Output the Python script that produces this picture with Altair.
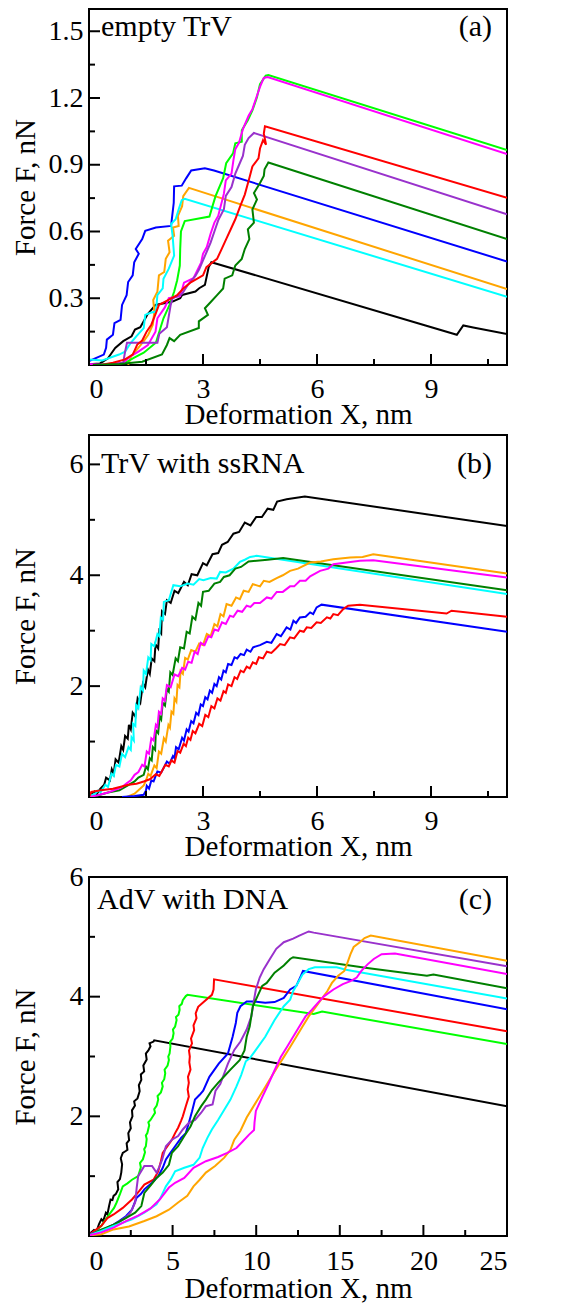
import altair as alt
import pandas as pd

FONT = "Liberation Serif"
FS = 28      # tick labels
FST = 29     # axis titles
FSA = 30     # annotations

# ---------------- Panel (a): empty TrV ----------------
a_black = [(0,0.003),(0.29,0.007),(0.5,0.03),(0.6,0.055),(0.69,0.077),(0.9,0.107),(1.12,0.129),(1.21,0.159),
           (1.35,0.17),(1.45,0.2),(1.53,0.225),(1.75,0.27),(2.2,0.285),(2.4,0.3),(2.45,0.315),(2.8,0.33),
           (2.9,0.345),(3.05,0.36),(3.1,0.4),(3.15,0.44),(3.22,0.462),(9.68,0.136),(9.85,0.178),(10.11,0.169),(11,0.139)]
a_blue = [(0,0.018),(0.39,0.047),(0.45,0.077),(0.47,0.114),(0.63,0.136),(0.67,0.188),(0.83,0.203),(0.87,0.27),
          (0.99,0.314),(1.03,0.373),(1.15,0.403),(1.19,0.462),(1.31,0.5),(1.23,0.521),(1.4,0.566),(1.48,0.603),
          (1.76,0.618),(2.16,0.625),(2.23,0.729),(2.24,0.803),(2.44,0.806),(2.56,0.84),(2.69,0.874),(3.05,0.884),
          (3.29,0.874),(11,0.465)]
a_orange = [(1.03,0.0),(1.11,0.04),(1.23,0.062),(1.44,0.107),(1.56,0.136),(1.68,0.181),(1.72,0.24),(1.69,0.292),
            (1.8,0.329),(1.84,0.403),(1.98,0.418),(2.02,0.477),(2.12,0.507),(2.08,0.559),(2.24,0.581),(2.21,0.618),
            (2.36,0.625),(2.34,0.67),(2.45,0.714),(2.48,0.759),(2.63,0.796),(11,0.341)]
a_cyan = [(0,0.025),(0.35,0.02),(0.79,0.047),(0.95,0.06),(1.1,0.1),(1.25,0.13),(1.44,0.166),(1.48,0.225),
          (1.62,0.235),(1.76,0.24),(1.8,0.314),(1.94,0.344),(1.96,0.388),(2.1,0.433),(2.24,0.492),(2.2,0.581),
          (2.16,0.633),(2.28,0.655),(2.36,0.7),(2.44,0.741),(2.52,0.747),(11,0.307)]
a_lime = [(0.95,0.01),(1.19,0.033),(1.44,0.055),(1.76,0.1),(1.88,0.166),(1.96,0.21),(2.12,0.27),(2.24,0.329),
          (2.32,0.381),(2.39,0.447),(2.4,0.521),(2.42,0.6),(2.52,0.647),(3.17,0.667),(3.25,0.714),(3.33,0.759),
          (3.53,0.84),(3.61,0.907),(3.79,0.951),(3.85,0.996),(4.02,1.003),(4.02,1.055),(4.18,1.1),(4.3,1.144),
          (4.42,1.203),(4.5,1.262),(4.65,1.3),(4.72,1.303),(11,0.966)]
a_magenta = [(0,0.005),(0.5,0.0),(0.9,0.01),(1.1,0.04),(1.3,0.06),(1.55,0.09),(1.75,0.15),(1.8,0.21),(2.0,0.26),
             (2.1,0.3),(2.4,0.31),(2.5,0.37),(2.75,0.39),(2.95,0.46),(3.0,0.5),(3.1,0.53),(3.2,0.59),(3.3,0.64),
             (3.4,0.67),(3.55,0.77),(3.6,0.83),(3.75,0.86),(3.8,0.92),(3.85,0.97),(3.95,1.0),(4.05,1.06),
             (4.2,1.12),(4.3,1.15),(4.4,1.2),(4.5,1.25),(4.6,1.29),(4.7,1.294),(11,0.948)]
a_purple = [(0.3,0.0),(0.9,0.01),(0.95,0.06),(1.0,0.1),(1.8,0.1),(1.85,0.14),(2.05,0.17),(2.1,0.22),(2.15,0.27),
            (2.2,0.3),(2.45,0.32),(2.6,0.36),(2.8,0.4),(2.9,0.43),(3.0,0.47),(3.1,0.51),(3.2,0.55),(3.3,0.6),
            (3.4,0.65),(3.55,0.7),(3.6,0.76),(3.75,0.8),(3.85,0.86),(3.95,0.9),(4.05,0.94),(4.1,0.99),(4.2,1.02),
            (4.34,1.043),(11,0.677)]
a_red = [(0.3,0.0),(0.63,0.01),(0.95,0.025),(1.15,0.047),(1.27,0.092),(1.4,0.11),(1.52,0.151),(1.64,0.181),
         (1.76,0.233),(1.84,0.27),(2.08,0.292),(2.32,0.314),(2.48,0.344),(2.69,0.373),(2.85,0.388),(3.0,0.403),
         (3.09,0.44),(3.37,0.477),(3.49,0.521),(3.61,0.566),(3.73,0.61),(3.85,0.655),(3.98,0.714),(4.1,0.766),
         (4.22,0.84),(4.3,0.892),(4.46,0.929),(4.5,0.973),(4.58,1.01),(4.66,0.99),(4.6,1.04),(4.63,1.073),(11,0.751)]
a_dgreen = [(0.1,0.0),(0.8,0.005),(1.4,0.015),(1.92,0.047),(2.05,0.09),(2.12,0.121),(2.24,0.107),(2.4,0.136),
            (2.89,0.166),(2.89,0.196),(3.13,0.225),(3.05,0.255),(3.21,0.284),(3.37,0.314),(3.53,0.344),
            (3.57,0.388),(3.77,0.403),(3.85,0.447),(4.02,0.477),(4.1,0.521),(4.22,0.566),(4.18,0.61),(4.34,0.64),
            (4.3,0.699),(4.42,0.744),(4.34,0.773),(4.5,0.818),(4.6,0.85),(4.62,0.88),(4.72,0.91),(11,0.566)]

# ---------------- Panel (b): TrV with ssRNA ----------------
b_maroon = [(0.0,0.03),(0.15,0.1),(0.2,0.05),(0.3,0.15),(0.4,0.22),(0.45,0.35),(0.55,0.3),(0.6,0.5),(0.65,0.42),
            (0.7,0.68),(0.78,0.62),(0.85,0.92),(0.9,0.85),(0.95,1.1),(1.02,1.05),(1.05,1.3),(1.1,1.22),(1.15,1.52),
            (1.22,1.45),(1.28,1.78),(1.35,1.7),(1.42,2.05),(1.48,1.98),(1.55,2.3),(1.6,2.22),(1.65,2.5),(1.72,2.45),
            (1.75,2.75),(1.82,2.68),(1.85,3.0),(1.9,2.95),(1.92,3.35),(2.0,3.3),(2.05,3.55),(2.15,3.5),(2.25,3.72),
            (2.35,3.68),(2.5,3.88),(2.6,3.82),(2.7,4.02),(2.85,4.0),(3.0,4.22),(3.1,4.18),(3.25,4.38),(3.4,4.4),
            (3.5,4.55),(3.65,4.6),(3.8,4.75),(3.95,4.78),(4.1,4.95),(4.25,4.9),(4.4,5.05),(4.55,5.05),(4.7,5.2),
            (4.85,5.18),(4.95,5.33),(5.2,5.37),(5.68,5.42),(11,4.89)]
b_cyan = [(0.0,0.02),(0.15,0.05),(0.25,0.12),(0.3,0.08),(0.43,0.22),(0.5,0.18),(0.59,0.42),(0.65,0.38),(0.71,0.58),
          (0.8,0.55),(0.87,0.78),(0.95,0.72),(1.04,0.9),(1.1,0.85),(1.12,1.08),(1.18,1.02),(1.16,1.32),(1.22,1.28),
          (1.24,1.66),(1.3,1.6),(1.36,1.98),(1.42,1.92),(1.44,2.28),(1.5,2.22),(1.56,2.52),(1.62,2.47),(1.64,2.76),
          (1.72,2.72),(1.8,2.94),(1.85,2.9),(1.89,3.24),(1.95,3.2),(1.97,3.52),(2.1,3.55),(2.22,3.82),(2.4,3.8),
          (2.6,3.85),(2.75,3.83),(2.9,3.93),(3.01,3.91),(3.2,3.95),(3.36,3.94),(3.45,4.06),(3.6,4.05),(3.8,4.12),
          (3.97,4.24),(4.1,4.28),(4.24,4.33),(4.41,4.35),(11,3.66)]
b_green = [(0.2,0.02),(0.5,0.08),(0.8,0.12),(1.0,0.2),(1.2,0.28),(1.3,0.35),(1.44,0.4),(1.5,0.55),(1.55,0.5),
           (1.6,0.7),(1.65,0.66),(1.68,0.9),(1.74,0.85),(1.76,1.2),(1.82,1.15),(1.86,1.45),(1.9,1.4),(1.94,1.7),
           (2.0,1.65),(2.05,1.95),(2.1,1.9),(2.14,2.25),(2.2,2.2),(2.28,2.5),(2.34,2.45),(2.4,2.7),(2.5,2.68),
           (2.57,2.98),(2.65,2.95),(2.72,3.25),(2.8,3.2),(2.88,3.5),(2.95,3.45),(3.0,3.7),(3.15,3.72),(3.3,3.85),
           (3.45,3.88),(3.55,3.97),(3.7,4.0),(3.85,4.12),(4.0,4.15),(4.2,4.25),(4.7,4.28),(5.11,4.31),(11,3.73)]
b_orange = [(1.0,0.0),(1.2,0.06),(1.3,0.12),(1.44,0.21),(1.5,0.3),(1.56,0.42),(1.62,0.38),(1.72,0.57),(1.78,0.52),
            (1.84,0.82),(1.9,0.78),(1.97,1.06),(2.02,1.0),(2.09,1.3),(2.13,1.25),(2.17,1.54),(2.22,1.5),(2.25,1.78),
            (2.3,1.72),(2.33,2.02),(2.38,1.98),(2.41,2.27),(2.47,2.22),(2.53,2.51),(2.6,2.48),(2.69,2.65),(2.8,2.62),
            (2.9,2.77),(3.0,2.74),(3.1,2.94),(3.2,2.9),(3.3,3.12),(3.38,3.08),(3.46,3.3),(3.54,3.26),(3.62,3.48),
            (3.75,3.45),(3.87,3.6),(3.97,3.57),(4.07,3.72),(4.2,3.7),(4.31,3.84),(4.5,3.8),(4.6,3.9),(4.75,3.88),
            (4.94,3.95),(5.1,4.0),(5.29,4.08),(5.5,4.12),(5.82,4.23),(6.1,4.25),(6.43,4.29),(6.87,4.32),(7.2,4.33),
            (7.48,4.38),(7.57,4.37),(11,4.03)]
b_magenta = [(0.0,0.0),(0.23,0.03),(0.5,0.08),(0.87,0.18),(1.0,0.25),(1.1,0.3),(1.2,0.4),(1.3,0.45),(1.4,0.58),
             (1.46,0.55),(1.52,0.82),(1.58,0.78),(1.64,1.06),(1.7,1.02),(1.76,1.3),(1.8,1.26),(1.84,1.54),(1.9,1.5),
             (1.94,1.78),(2.0,1.74),(2.05,2.02),(2.15,1.98),(2.25,2.21),(2.35,2.18),(2.45,2.33),(2.53,2.3),
             (2.61,2.44),(2.7,2.42),(2.78,2.62),(2.86,2.58),(2.94,2.78),(3.04,2.74),(3.14,2.9),(3.22,2.88),(3.3,3.02),
             (3.4,3.0),(3.5,3.15),(3.6,3.12),(3.71,3.27),(3.8,3.25),(3.91,3.36),(4.03,3.34),(4.15,3.45),(4.25,3.43),
             (4.35,3.5),(4.5,3.5),(4.68,3.6),(4.8,3.58),(4.94,3.7),(5.1,3.7),(5.29,3.8),(5.4,3.8),(5.55,3.9),
             (5.7,3.9),(5.82,3.98),(6.08,4.08),(6.3,4.12),(6.43,4.2),(6.78,4.23),(7.13,4.26),(7.48,4.27),(11,3.96)]
b_blue = [(0.87,0.0),(1.2,0.02),(1.44,0.04),(1.5,0.12),(1.52,0.2),(1.58,0.15),(1.64,0.3),(1.7,0.28),(1.8,0.46),
          (1.9,0.44),(2.05,0.64),(2.12,0.6),(2.21,0.74),(2.25,0.7),(2.29,0.9),(2.36,0.86),(2.45,1.07),(2.5,1.02),
          (2.57,1.22),(2.62,1.18),(2.69,1.37),(2.75,1.33),(2.82,1.52),(2.88,1.48),(2.94,1.67),(3.0,1.64),(3.06,1.8),
          (3.12,1.76),(3.18,1.92),(3.24,1.88),(3.3,2.04),(3.36,2.0),(3.42,2.16),(3.48,2.12),(3.54,2.28),(3.6,2.25),
          (3.66,2.4),(3.75,2.38),(3.83,2.52),(3.9,2.5),(3.99,2.58),(4.08,2.56),(4.15,2.66),(4.25,2.62),(4.32,2.7),
          (4.5,2.74),(4.68,2.8),(4.8,2.78),(4.94,2.94),(5.05,2.9),(5.2,3.06),(5.3,3.02),(5.38,3.18),(5.45,3.14),
          (5.55,3.24),(5.7,3.25),(5.82,3.33),(5.9,3.3),(5.99,3.42),(6.12,3.47),(11,2.98)]
b_red = [(0.0,0.0),(0.06,0.09),(0.31,0.12),(0.63,0.15),(1.04,0.22),(1.25,0.24),(1.44,0.28),(1.6,0.32),(1.76,0.41),
         (1.85,0.38),(2.01,0.58),(2.1,0.55),(2.17,0.66),(2.25,0.62),(2.33,0.83),(2.4,0.8),(2.49,0.96),(2.55,0.92),
         (2.61,1.07),(2.67,1.03),(2.73,1.19),(2.8,1.15),(2.9,1.32),(2.98,1.28),(3.06,1.48),(3.14,1.44),(3.22,1.64),
         (3.3,1.6),(3.38,1.78),(3.46,1.74),(3.54,1.91),(3.6,1.88),(3.66,2.03),(3.75,2.0),(3.83,2.16),(3.9,2.13),
         (3.99,2.28),(4.07,2.25),(4.15,2.35),(4.23,2.32),(4.31,2.43),(4.4,2.4),(4.47,2.52),(4.58,2.5),(4.68,2.62),
         (4.8,2.6),(4.92,2.68),(5.03,2.76),(5.15,2.74),(5.29,2.88),(5.4,2.86),(5.55,3.0),(5.65,2.98),(5.73,3.06),
         (5.85,3.05),(5.99,3.15),(6.1,3.14),(6.26,3.24),(6.35,3.22),(6.43,3.3),(6.55,3.28),(6.69,3.39),(6.82,3.45),
         (7.13,3.47),(9.41,3.31),(9.54,3.36),(11,3.25)]

# ---------------- Panel (c): AdV with DNA ----------------
c_black = [(0,0.03),(0.3,0.1),(0.45,0.08),(0.6,0.2),(0.74,0.28),(0.85,0.25),(1.01,0.39),(1.1,0.36),(1.2,0.5),
           (1.29,0.61),(1.4,0.6),(1.47,0.67),(1.6,0.7),(1.75,0.78),(1.7,0.9),(1.85,0.95),(1.93,1.06),(1.98,1.2),
           (1.9,1.3),(2.02,1.39),(2.2,1.42),(2.3,1.44),(2.25,1.55),(2.4,1.6),(2.35,1.72),(2.5,1.8),(2.45,1.9),
           (2.6,2.0),(2.57,2.1),(2.75,2.18),(2.7,2.25),(2.9,2.3),(3.03,2.42),(2.98,2.52),(3.13,2.61),(3.1,2.7),
           (3.3,2.75),(3.25,2.85),(3.45,2.95),(3.4,3.05),(3.55,3.1),(3.68,3.17),(3.62,3.22),(3.86,3.25),(3.9,3.27),
           (25,2.17)]
c_lime = [(0,0.01),(0.4,0.08),(0.74,0.17),(1.0,0.28),(1.29,0.39),(1.5,0.47),(1.65,0.56),(1.85,0.7),(2.02,0.83),
          (2.3,0.88),(2.57,0.94),(2.94,1.0),(3.1,1.15),(3.05,1.22),(3.22,1.28),(3.35,1.4),(3.3,1.45),(3.4,1.5),
          (3.45,1.62),(3.4,1.68),(3.49,1.72),(3.6,1.85),(3.55,1.9),(3.68,1.94),(3.95,2.06),(3.9,2.12),(4.05,2.18),
          (4.14,2.28),(4.1,2.34),(4.3,2.4),(4.41,2.5),(4.36,2.56),(4.5,2.62),(4.56,2.72),(4.52,2.78),(4.7,2.85),
          (4.78,2.94),(4.74,3.0),(4.82,3.05),(4.87,3.17),(4.84,3.24),(5.0,3.3),(5.06,3.39),(5.02,3.45),(5.15,3.5),
          (5.24,3.61),(5.2,3.66),(5.35,3.7),(5.42,3.78),(5.4,3.84),(5.55,3.88),(5.61,3.94),(5.79,4.01),(5.89,4.03),
          (13.44,3.71),(13.94,3.75),(25,3.21)]
c_red = [(0,0.02),(0.74,0.17),(1.1,0.3),(1.47,0.36),(2.02,0.47),(2.57,0.61),(3.0,0.75),(3.31,0.86),(3.86,0.94),
         (4.14,1.08),(4.3,1.25),(4.41,1.39),(4.69,1.5),(4.96,1.61),(5.15,1.72),(5.33,1.81),(5.5,1.92),(5.61,2.0),
         (5.79,2.17),(5.97,2.33),(5.9,2.45),(5.97,2.56),(5.92,2.66),(6.07,2.78),(6.0,2.9),(6.03,3.0),(5.98,3.1),
         (6.16,3.22),(6.1,3.3),(6.29,3.44),(6.25,3.52),(6.43,3.64),(6.38,3.72),(6.53,3.83),(6.89,3.92),(7.35,4.03),
         (7.45,4.12),(7.48,4.29),(25,3.42)]
c_blue = [(0,0.03),(0.74,0.08),(1.1,0.14),(1.47,0.19),(1.8,0.25),(2.21,0.33),(2.57,0.44),(2.85,0.64),(3.1,0.7),
          (3.31,0.78),(3.77,0.89),(4.14,1.0),(4.41,1.14),(4.6,1.28),(4.87,1.39),(5.15,1.5),(5.51,1.64),(5.79,1.72),
          (5.97,1.89),(6.16,2.08),(6.34,2.28),(6.62,2.36),(6.83,2.43),(7.2,2.66),(7.76,2.88),(8.31,3.05),(8.59,3.33),
          (8.78,3.56),(8.87,3.73),(9.06,3.84),(9.43,3.92),(9.8,3.92),(10.54,3.9),(11.1,3.91),(11.65,3.98),
          (12.03,4.12),(12.4,4.18),(12.68,4.35),(12.8,4.43),(25,3.79)]
c_purple = [(0,0.01),(0.5,0.08),(1.1,0.14),(1.6,0.2),(2.21,0.31),(2.5,0.4),(2.76,0.56),(2.85,0.8),(2.94,1.0),
            (3.31,1.17),(3.77,1.17),(4.04,1.06),(4.2,1.15),(4.38,1.28),(4.6,1.5),(4.96,1.61),(5.33,1.67),(5.61,1.78),
            (5.97,1.89),(6.34,1.94),(6.71,2.06),(6.99,2.17),(7.39,2.2),(7.57,2.43),(7.85,2.54),(8.31,2.88),
            (8.69,3.11),(9.06,3.25),(9.43,3.45),(9.71,3.67),(9.84,3.9),(9.98,4.12),(10.21,4.32),(10.45,4.46),
            (10.82,4.63),(11.2,4.8),(11.65,4.91),(12.21,4.97),(12.58,5.02),(13.14,5.09),(13.44,5.07),(25,4.51)]
c_dgreen = [(0,0.01),(0.7,0.1),(1.47,0.19),(2.2,0.3),(2.76,0.39),(3.13,0.5),(3.31,0.72),(3.7,0.85),(4.04,0.97),
            (4.41,1.06),(4.78,1.19),(4.96,1.39),(5.33,1.5),(5.7,1.67),(6.07,1.83),(6.34,2.0),(6.71,2.17),(6.99,2.28),
            (7.35,2.44),(7.72,2.56),(8.09,2.67),(8.46,2.78),(9.01,2.94),(9.3,3.1),(9.43,3.33),(9.61,3.5),(9.8,3.84),
            (10.08,4.01),(10.36,4.18),(10.63,4.23),(11.1,4.4),(11.65,4.52),(12.03,4.63),(12.21,4.66),(16.63,4.48),
            (20.21,4.35),(20.6,4.37),(25,4.14)]
c_cyan = [(0,0.01),(0.7,0.08),(1.47,0.17),(2.0,0.22),(2.57,0.28),(3.31,0.39),(4.04,0.53),(4.3,0.65),(4.6,0.83),
          (4.9,0.95),(5.15,1.08),(5.7,1.14),(6.25,1.19),(6.62,1.31),(6.8,1.47),(7.08,1.64),(7.35,1.78),(7.72,1.94),
          (8.09,2.11),(8.46,2.28),(8.82,2.5),(9.1,2.69),(9.38,2.92),(9.61,2.97),(9.98,3.11),(10.54,3.33),(11.1,3.61),
          (11.65,3.84),(12.03,3.95),(12.21,4.09),(12.49,4.23),(12.77,4.37),(13.14,4.46),(13.51,4.49),(14.81,4.49),
          (15.37,4.45),(25,3.97)]
c_orange = [(0,0.01),(0.74,0.03),(1.47,0.11),(2.39,0.16),(3.31,0.25),(4.04,0.33),(4.78,0.44),(5.33,0.56),
            (5.88,0.67),(6.25,0.83),(6.62,0.94),(6.99,1.06),(7.54,1.17),(8.09,1.31),(8.46,1.44),(8.69,1.61),
            (9.06,1.76),(9.43,1.98),(9.8,2.15),(10.17,2.32),(10.54,2.49),(10.91,2.66),(11.28,2.83),(11.65,2.99),
            (12.03,3.16),(12.4,3.33),(12.77,3.5),(13.14,3.67),(13.51,3.81),(13.88,3.95),(14.25,4.09),(14.53,4.23),
            (14.9,4.35),(15.27,4.43),(15.46,4.57),(15.64,4.71),(15.83,4.83),(16.2,4.91),(16.48,4.98),(16.85,5.02),
            (25,4.6)]
c_magenta = [(0,0.01),(0.74,0.06),(1.47,0.14),(2.21,0.25),(2.94,0.34),(3.68,0.46),(4.23,0.61),(4.78,0.81),
             (5.15,0.89),(5.7,0.97),(6.25,1.14),(6.99,1.25),(7.72,1.32),(8.27,1.39),(8.82,1.47),(9.19,1.58),
             (9.56,1.69),(9.87,1.77),(9.9,1.9),(9.98,2.09),(10.36,2.32),(10.73,2.54),(11.1,2.77),(11.47,2.99),
             (11.84,3.16),(12.21,3.33),(12.58,3.5),(12.95,3.67),(13.32,3.78),(13.7,3.9),(14.07,4.01),(14.62,4.12),
             (15.18,4.21),(15.64,4.26),(16.01,4.32),(16.29,4.43),(16.66,4.54),(17.03,4.63),(17.5,4.71),(18.3,4.72),
             (25,4.38)]

# axis ticks / labels
A_XLAB = [0, 3, 6, 9]
A_XMIN = [1.5, 4.5, 7.5, 10.5]
A_YLAB = [0.3, 0.6, 0.9, 1.2, 1.5]
A_YMIN = [0.15, 0.45, 0.75, 1.05, 1.35]
B_XLAB = [0, 3, 6, 9]
B_XMIN = [1.5, 4.5, 7.5, 10.5]
B_YLAB = [2, 4, 6]
B_YMIN = [1, 3, 5]
C_XLAB = [0, 5, 10, 15, 20, 25]
C_XMIN = [2.5, 7.5, 12.5, 17.5, 22.5]
C_YLAB = [2, 4, 6]
C_YMIN = [1, 3, 5]

COL = {"black": "#000000", "blue": "#0000ff", "orange": "#ffa500", "cyan": "#00ffff", "lime": "#00ff00",
       "magenta": "#ff00ff", "purple": "#9932cc", "red": "#ff0000", "dgreen": "#008000", "maroon": "#6e0f50"}


def to_df(curves):
    rows = []
    for name, pts in curves:
        for i, (x, y) in enumerate(pts):
            rows.append({"curve": name, "x": x, "y": y, "i": i})
    return pd.DataFrame(rows)


def panel(curves, xdom, ydom, xlab, xmin, ylab, ymin, W, H, label, tag, text_y, text_x, yfmt, title_y_off):
    names = [n for n, _ in curves]
    df = to_df(curves)
    xs = alt.Scale(domain=xdom, nice=False, zero=False)
    ys = alt.Scale(domain=ydom, nice=False, zero=False)
    xaxis = alt.Axis(values=xlab, title="Deformation X, nm", format="d", labelBaseline="alphabetic",
                     labelPadding=title_y_off[0], titleBaseline="alphabetic", titleY=title_y_off[1])
    yaxis = alt.Axis(values=ylab, title="Force F, nN", format=yfmt, labelPadding=6,
                     titleX=-55, titleBaseline="alphabetic")
    lines = alt.Chart(df).mark_line(strokeWidth=2, clip=True).encode(
        x=alt.X("x:Q", scale=xs, axis=xaxis),
        y=alt.Y("y:Q", scale=ys, axis=yaxis),
        color=alt.Color("curve:N", scale=alt.Scale(domain=names, range=[COL[n] for n in names]), legend=None),
        order="i:Q",
    )
    layers = [lines]
    for vals, ln in ((xlab, 11), (xmin, 6)):
        d = pd.DataFrame({"x": vals})
        layers.append(alt.Chart(d).mark_rule(color="black", strokeWidth=2).encode(
            x=alt.X("x:Q", scale=xs), y=alt.value(H), y2=alt.value(H - ln)))
    for vals, ln in ((ylab, 11), (ymin, 6)):
        d = pd.DataFrame({"y": vals})
        layers.append(alt.Chart(d).mark_rule(color="black", strokeWidth=2).encode(
            y=alt.Y("y:Q", scale=ys), x=alt.value(0), x2=alt.value(ln)))
    t1 = alt.Chart(pd.DataFrame({"t": [label]})).mark_text(
        font=FONT, fontSize=FSA, align="left", baseline="alphabetic", color="black").encode(
        text="t:N", x=alt.value(text_x), y=alt.value(text_y))
    t2 = alt.Chart(pd.DataFrame({"t": [tag]})).mark_text(
        font=FONT, fontSize=FSA, align="right", baseline="alphabetic", color="black").encode(
        text="t:N", x=alt.value(W - 15), y=alt.value(text_y))
    layers += [t1, t2]
    return alt.layer(*layers).properties(width=W, height=H)


pa = panel([("black", a_black), ("blue", a_blue), ("orange", a_orange), ("cyan", a_cyan), ("lime", a_lime),
            ("magenta", a_magenta), ("purple", a_purple), ("red", a_red), ("dgreen", a_dgreen)],
           [0, 11], [0, 1.6], A_XLAB, A_XMIN, A_YLAB, A_YMIN, 418, 356, "empty TrV", "(a)", 27, 12, ".1f", (32, 58))
pb = panel([("maroon", b_maroon), ("cyan", b_cyan), ("dgreen", b_green), ("orange", b_orange),
            ("magenta", b_magenta), ("blue", b_blue), ("red", b_red)],
           [0, 11], [0, 6.53], B_XLAB, B_XMIN, B_YLAB, B_YMIN, 418, 362, "TrV with ssRNA", "(b)", 38, 12, "d", (32, 58))
pc = panel([("black", c_black), ("lime", c_lime), ("red", c_red), ("blue", c_blue), ("purple", c_purple),
            ("dgreen", c_dgreen), ("cyan", c_cyan), ("orange", c_orange), ("magenta", c_magenta)],
           [0, 25], [0, 6], C_XLAB, C_XMIN, C_YLAB, C_YMIN, 418, 359, "AdV with DNA", "(c)", 32, 8, "d", (33, 61))

top = alt.vconcat(pa, pb, spacing=4)
chart = alt.vconcat(top, pc, spacing=0).properties(
    padding={"left": 2, "top": 0, "right": 5, "bottom": 0}, background="white"
).configure_view(stroke="black", strokeWidth=2).configure_axis(
    labelFont=FONT, titleFont=FONT, labelFontSize=FS, titleFontSize=FST, titleFontWeight="normal",
    labelColor="black", titleColor="black", ticks=False, tickSize=0, domain=False, grid=False
)

chart.save("out.html", embed_options={"renderer": "svg", "actions": False})
